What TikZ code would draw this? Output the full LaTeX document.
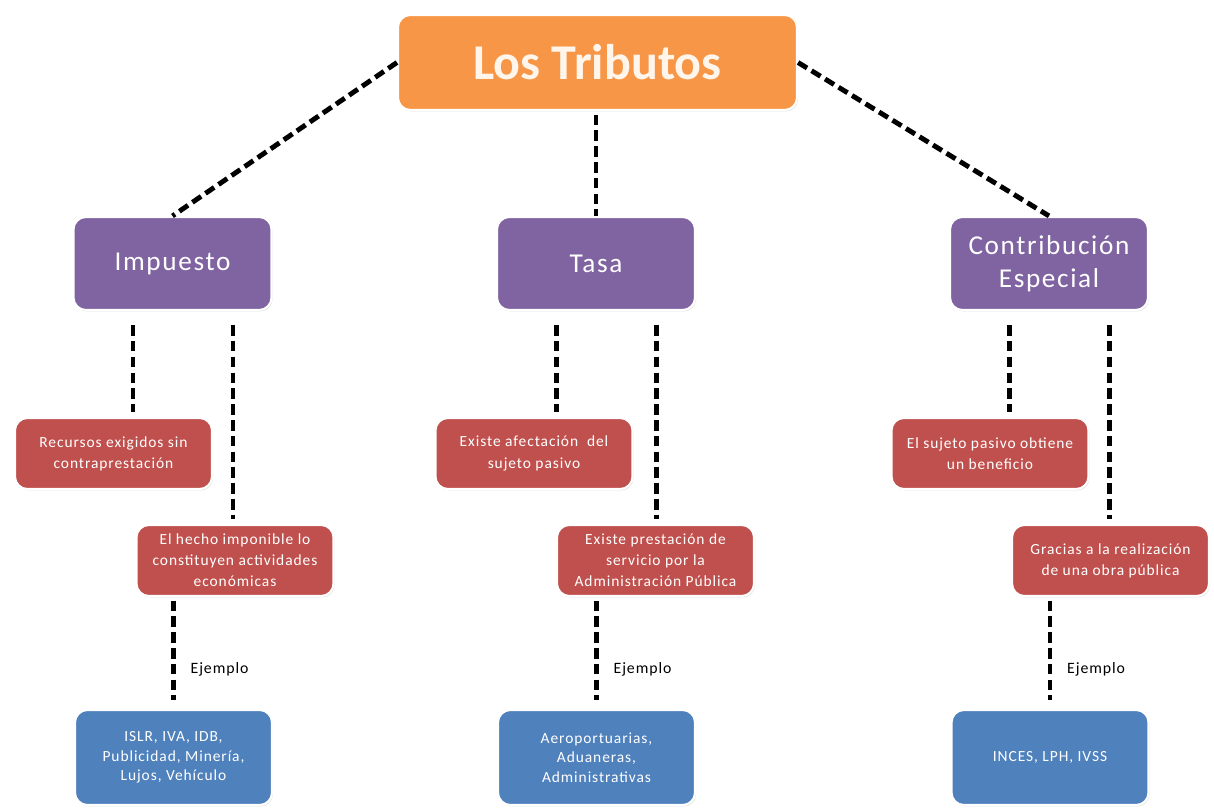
\documentclass[tikz,border=0pt]{standalone}
\usepackage{fontspec}
\setmainfont{Carlito}
\newfontfamily\anchofont[LetterSpace=6]{Carlito}
\usepackage{tikz}
\usetikzlibrary{shadows}
\definecolor{naranja}{HTML}{F79646}
\definecolor{morado}{HTML}{8064A2}
\definecolor{rojo}{HTML}{C0504D}
\definecolor{azul}{HTML}{4F81BD}
\tikzset{
    caja/.style={rounded corners=7pt, draw=white, line width=1.2pt, align=center,
        drop shadow={shadow xshift=0.6pt, shadow yshift=-0.8pt, opacity=0.25}},
    tema/.style={caja, fill=naranja, text=white!92!orange, font=\bfseries\fontsize{28.5}{32}\selectfont,
        minimum width=7.98cm, minimum height=1.9cm},
    tipo/.style={caja, fill=morado, text=white, font=\anchofont\fontsize{15.5}{18.5}\selectfont,
        minimum width=3.96cm, minimum height=1.86cm},
    rasgo/.style={caja, fill=rojo, text=white, font=\anchofont\fontsize{8.8}{12}\selectfont,
        minimum width=3.94cm, minimum height=1.42cm},
    ejemplo/.style={caja, fill=azul, text=white, font=\anchofont\fontsize{8.8}{11}\selectfont,
        minimum width=3.94cm, minimum height=1.9cm},
    etiqueta/.style={font=\anchofont\fontsize{9}{11}\selectfont, text=black},
    enlace/.style={line width=2.8pt, dash pattern=on 6pt off 3pt},
}

\begin{document}
\begin{tikzpicture}
    \useasboundingbox (0,0) rectangle (24.28,16.16);

    \node[tema] (tributos) at (11.95,14.91) {Los Tributos};

    \node[tipo] (impuesto) at (3.45,10.89) {Impuesto};
    \node[tipo] (tasa) at (11.92,10.89) {Tasa};
    \node[tipo] (contrib) at (20.98,10.89) {Contribución\\Especial};

    \node[rasgo] (imp1) at (2.27,7.09) {Recursos exigidos sin\\contraprestación};
    \node[rasgo] (imp2) at (4.70,4.95) {El hecho imponible lo\\constituyen actividades\\económicas};
    \node[rasgo] (tas1) at (10.68,7.09) {Existe afectación\ \ del\\sujeto pasivo};
    \node[rasgo] (tas2) at (13.11,4.95) {Existe prestación de\\servicio por la\\Administración Pública};
    \node[rasgo] (con1) at (19.80,7.09) {El sujeto pasivo obtiene\\un beneficio};
    \node[rasgo] (con2) at (22.21,4.95) {Gracias a la realización\\de una obra pública};

    \node[ejemplo] (ejimp) at (3.47,1.01) {ISLR, IVA, IDB,\\Publicidad, Minería,\\Lujos, Vehículo};
    \node[ejemplo] (ejtas) at (11.93,1.01) {Aeroportuarias,\\Aduaneras,\\Administrativas};
    \node[ejemplo] (ejcon) at (21.00,1.01) {INCES, LPH, IVSS};

    \draw[enlace] (tributos.west) -- (impuesto.north);
    \draw[enlace, shorten <=2pt] (tasa.north |- tributos.south) -- (tasa.north);
    \draw[enlace] (tributos.east) -- (contrib.north);

    \draw[enlace, shorten <=8pt, shorten >=3pt] ([xshift=-0.79cm]impuesto.south) -- ([xshift=-0.79cm]impuesto.south |- imp1.north);
    \draw[enlace, shorten <=8pt, shorten >=3pt] ([xshift=1.21cm]impuesto.south) -- ([xshift=1.21cm]impuesto.south |- imp2.north);
    \draw[enlace, shorten <=8pt, shorten >=3pt] ([xshift=-0.79cm]tasa.south) -- ([xshift=-0.79cm]tasa.south |- tas1.north);
    \draw[enlace, shorten <=8pt, shorten >=3pt] ([xshift=1.21cm]tasa.south) -- ([xshift=1.21cm]tasa.south |- tas2.north);
    \draw[enlace, shorten <=8pt, shorten >=3pt] ([xshift=-0.79cm]contrib.south) -- ([xshift=-0.79cm]contrib.south |- con1.north);
    \draw[enlace, shorten <=8pt, shorten >=3pt] ([xshift=1.21cm]contrib.south) -- ([xshift=1.21cm]contrib.south |- con2.north);

    \draw[enlace, shorten <=2pt, shorten >=5pt] (ejimp.north |- imp2.south) -- (ejimp.north) node[etiqueta, pos=0.65, right=5pt] {Ejemplo};
    \draw[enlace, shorten <=2pt, shorten >=5pt] (ejtas.north |- tas2.south) -- (ejtas.north) node[etiqueta, pos=0.65, right=5pt] {Ejemplo};
    \draw[enlace, shorten <=2pt, shorten >=5pt] (ejcon.north |- con2.south) -- (ejcon.north) node[etiqueta, pos=0.65, right=5pt] {Ejemplo};

\end{tikzpicture}
\end{document}
